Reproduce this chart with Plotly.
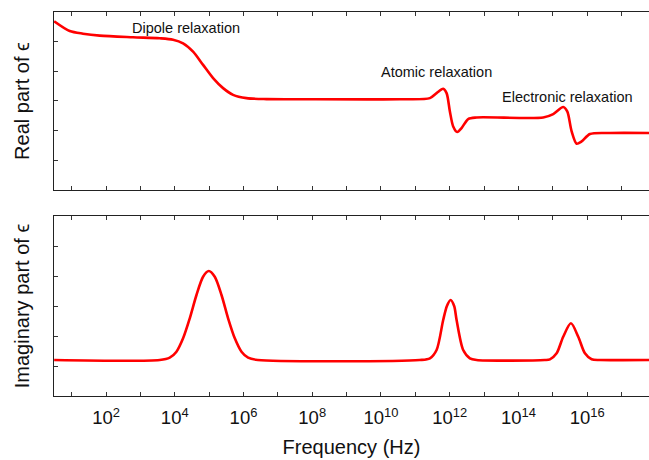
import plotly.graph_objects as go
from plotly.subplots import make_subplots

# log10(frequency in Hz) and values
real_logf = [0.49, 0.943, 1.33, 1.817, 2.786, 3.563, 3.95, 4.242, 4.533, 4.824, 5.115,
             5.406, 5.697, 6.087, 6.67, 7.64, 10.55, 11.424, 11.619, 11.811, 11.91,
             12.006, 12.102, 12.219, 12.346, 12.539, 12.783, 14.722, 15.013, 15.304,
             15.421, 15.549, 15.694, 15.84, 16.082, 16.664, 17.8]
real_eps = [4.69, 4.36, 4.269, 4.202, 4.148, 4.114, 4.067, 3.946, 3.664, 3.217, 2.77,
            2.434, 2.208, 2.097, 2.064, 2.06, 2.06, 2.097, 2.266, 2.41, 2.266,
            1.647, 1.143, 0.955, 1.089, 1.392, 1.445, 1.445, 1.56, 1.795,
            1.647, 0.975, 0.561, 0.639, 0.887, 0.921, 0.921]

imag_logf = [0.49, 3.563, 3.854, 4.049, 4.242, 4.437, 4.632, 4.824, 4.99, 5.164, 5.36,
             5.552, 5.747, 5.942, 6.134, 6.416, 11.13, 11.424, 11.619, 11.811, 11.92,
             12.026, 12.13, 12.201, 12.393, 12.588, 12.783, 14.77, 14.917, 15.112,
             15.304, 15.528, 15.741, 15.936, 16.131, 16.373, 17.8]
imag_eps = [0.2, 0.2, 0.277, 0.477, 0.923, 1.59, 2.367, 2.977, 3.167, 2.977, 2.367,
            1.59, 0.923, 0.477, 0.277, 0.2, 0.2, 0.257, 0.533, 1.533, 2.0,
            2.2, 2.0, 1.533, 0.533, 0.257, 0.2, 0.2, 0.223, 0.423,
            0.977, 1.423, 0.977, 0.423, 0.223, 0.2, 0.2]

major_exps = [2, 4, 6, 8, 10, 12, 14, 16]
minor_exps = list(range(1, 18))
tick_labels = [f"10<sup>{k}</sup>" for k in major_exps]

notes = ["Dipole relaxation", "Atomic relaxation", "Electronic relaxation"]
note_logf = [4.34, 11.62, 15.42]
note_y = [4.45, 2.99, 2.15]

FONT = "Liberation Sans, Arial, sans-serif"
real_f = [10 ** e for e in real_logf]
imag_f = [10 ** e for e in imag_logf]

fig = make_subplots(rows=2, cols=1, shared_xaxes=False, vertical_spacing=0.0)
line = dict(color="#ff0000", width=2.6, shape="spline", smoothing=0.8)
fig.add_trace(go.Scatter(x=real_f, y=real_eps, mode="lines", line=line,
                         showlegend=False), row=1, col=1)
fig.add_trace(go.Scatter(x=imag_f, y=imag_eps, mode="lines", line=line,
                         showlegend=False), row=2, col=1)

xcommon = dict(type="log", range=[0.486, 17.8], tickvals=[10 ** k for k in major_exps],
               ticktext=tick_labels, ticks="inside", ticklen=4, tickcolor="#333",
               minor=dict(tickvals=[10 ** k for k in minor_exps], ticks="inside",
                          ticklen=4, tickcolor="#333", showgrid=False),
               showline=True, linecolor="#222", linewidth=1.2, mirror="ticks",
               showgrid=False, zeroline=False, ticklabelstandoff=5,
               tickfont=dict(family=FONT, size=18.5, color="#111"))
ycommon = dict(range=[-1, 5], tickvals=[0, 1, 2, 3, 4], showticklabels=False,
               ticks="inside", ticklen=4, tickcolor="#333", showline=True,
               linecolor="#222", linewidth=1.2, showgrid=False, zeroline=False,
               title_font=dict(family=FONT, size=20, color="#111"), title_standoff=17)

fig.update_layout(
    width=649, height=460, plot_bgcolor="white", paper_bgcolor="white",
    margin=dict(l=54, r=0, t=12, b=64, autoexpand=False),
    font=dict(family=FONT, color="#111"),
    xaxis=dict(xcommon, showticklabels=False, domain=[0, 1]),
    xaxis2=dict(xcommon, domain=[0, 1],
                title=dict(text="Frequency (Hz)", font=dict(family=FONT, size=20, color="#111"),
                           standoff=12)),
    yaxis=dict(ycommon, domain=[0.5365, 1.0], title_text="Real part of ϵ"),
    yaxis2=dict(ycommon, domain=[0.0, 0.46875], title_text="Imaginary part of ϵ"),
)

for txt, lx, ly in zip(notes, note_logf, note_y):
    fig.add_annotation(x=lx, y=ly, xref="x", yref="y", text=txt, showarrow=False,
                       font=dict(family=FONT, size=14.5, color="#111"))

fig.write_html("out.html", config={"displayModeBar": False},
               post_script="document.body.style.margin='0';document.body.style.overflow='hidden';")
